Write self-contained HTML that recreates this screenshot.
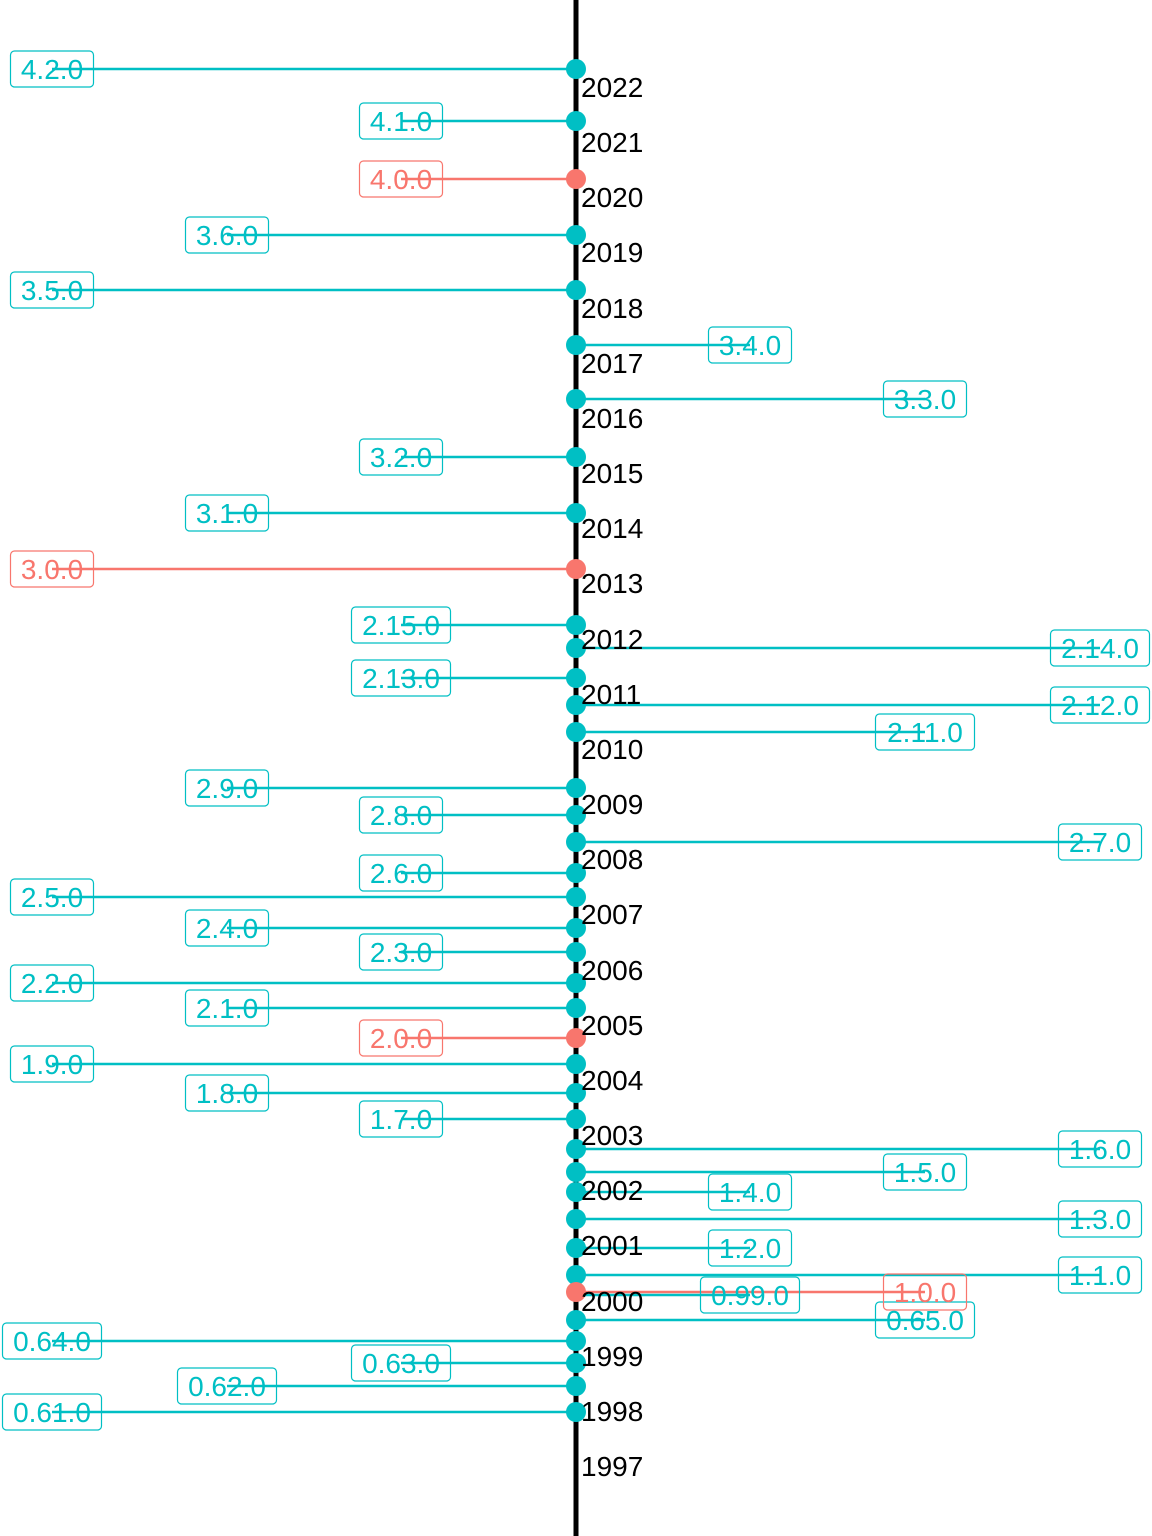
<!DOCTYPE html>
<html><head><meta charset="utf-8"><style>html,body{margin:0;padding:0;background:#fff}svg{display:block}</style></head>
<body>
<svg xmlns="http://www.w3.org/2000/svg" width="1152" height="1536" viewBox="0 0 1152 1536" font-family="Liberation Sans, sans-serif">
<rect width="1152" height="1536" fill="#fff"/>
<line x1="576" y1="0" x2="576" y2="1536" stroke="#000" stroke-width="5"/>
<g stroke="#00BFC4" stroke-width="2.5">
<line x1="576" y1="69" x2="52" y2="69"/>
<line x1="576" y1="121" x2="401" y2="121"/>
<line x1="576" y1="235" x2="227" y2="235"/>
<line x1="576" y1="290" x2="52" y2="290"/>
<line x1="576" y1="345" x2="750" y2="345"/>
<line x1="576" y1="399" x2="925" y2="399"/>
<line x1="576" y1="457" x2="401" y2="457"/>
<line x1="576" y1="513" x2="227" y2="513"/>
<line x1="576" y1="625" x2="401" y2="625"/>
<line x1="576" y1="648" x2="1100" y2="648"/>
<line x1="576" y1="678" x2="401" y2="678"/>
<line x1="576" y1="705" x2="1100" y2="705"/>
<line x1="576" y1="732" x2="925" y2="732"/>
<line x1="576" y1="788" x2="227" y2="788"/>
<line x1="576" y1="815" x2="401" y2="815"/>
<line x1="576" y1="842" x2="1100" y2="842"/>
<line x1="576" y1="873" x2="401" y2="873"/>
<line x1="576" y1="897" x2="52" y2="897"/>
<line x1="576" y1="928" x2="227" y2="928"/>
<line x1="576" y1="952" x2="401" y2="952"/>
<line x1="576" y1="983" x2="52" y2="983"/>
<line x1="576" y1="1008" x2="227" y2="1008"/>
<line x1="576" y1="1064" x2="52" y2="1064"/>
<line x1="576" y1="1093" x2="227" y2="1093"/>
<line x1="576" y1="1119" x2="401" y2="1119"/>
<line x1="576" y1="1149" x2="1100" y2="1149"/>
<line x1="576" y1="1172" x2="925" y2="1172"/>
<line x1="576" y1="1192" x2="750" y2="1192"/>
<line x1="576" y1="1219" x2="1100" y2="1219"/>
<line x1="576" y1="1248" x2="750" y2="1248"/>
<line x1="576" y1="1275" x2="1100" y2="1275"/>
<line x1="576" y1="1295" x2="750" y2="1295"/>
<line x1="576" y1="1320" x2="925" y2="1320"/>
<line x1="576" y1="1341" x2="52" y2="1341"/>
<line x1="576" y1="1363" x2="401" y2="1363"/>
<line x1="576" y1="1386" x2="227" y2="1386"/>
<line x1="576" y1="1412" x2="52" y2="1412"/>
</g>
<g stroke="#F8766D" stroke-width="2.5">
<line x1="576" y1="179" x2="401" y2="179"/>
<line x1="576" y1="569" x2="52" y2="569"/>
<line x1="576" y1="1038" x2="401" y2="1038"/>
<line x1="576" y1="1292" x2="925" y2="1292"/>
</g>
<g fill="#00BFC4">
<circle cx="576" cy="69" r="10"/><circle cx="576" cy="121" r="10"/><circle cx="576" cy="235" r="10"/><circle cx="576" cy="290" r="10"/><circle cx="576" cy="345" r="10"/><circle cx="576" cy="399" r="10"/><circle cx="576" cy="457" r="10"/><circle cx="576" cy="513" r="10"/><circle cx="576" cy="625" r="10"/><circle cx="576" cy="648" r="10"/><circle cx="576" cy="678" r="10"/><circle cx="576" cy="705" r="10"/><circle cx="576" cy="732" r="10"/><circle cx="576" cy="788" r="10"/><circle cx="576" cy="815" r="10"/><circle cx="576" cy="842" r="10"/><circle cx="576" cy="873" r="10"/><circle cx="576" cy="897" r="10"/><circle cx="576" cy="928" r="10"/><circle cx="576" cy="952" r="10"/><circle cx="576" cy="983" r="10"/><circle cx="576" cy="1008" r="10"/><circle cx="576" cy="1064" r="10"/><circle cx="576" cy="1093" r="10"/><circle cx="576" cy="1119" r="10"/><circle cx="576" cy="1149" r="10"/><circle cx="576" cy="1172" r="10"/><circle cx="576" cy="1192" r="10"/><circle cx="576" cy="1219" r="10"/><circle cx="576" cy="1248" r="10"/><circle cx="576" cy="1275" r="10"/><circle cx="576" cy="1320" r="10"/><circle cx="576" cy="1341" r="10"/><circle cx="576" cy="1363" r="10"/><circle cx="576" cy="1386" r="10"/><circle cx="576" cy="1412" r="10"/>
</g>
<g fill="#F8766D">
<circle cx="576" cy="179" r="10"/><circle cx="576" cy="569" r="10"/><circle cx="576" cy="1038" r="10"/><circle cx="576" cy="1292" r="10"/>
</g>
<g font-size="28" fill="#000">
<text x="581" y="97">2022</text><text x="581" y="152">2021</text><text x="581" y="207">2020</text><text x="581" y="262">2019</text><text x="581" y="318">2018</text><text x="581" y="373">2017</text><text x="581" y="428">2016</text><text x="581" y="483">2015</text><text x="581" y="538">2014</text><text x="581" y="593">2013</text><text x="581" y="649">2012</text><text x="581" y="704">2011</text><text x="581" y="759">2010</text><text x="581" y="814">2009</text><text x="581" y="869">2008</text><text x="581" y="924">2007</text><text x="581" y="980">2006</text><text x="581" y="1035">2005</text><text x="581" y="1090">2004</text><text x="581" y="1145">2003</text><text x="581" y="1200">2002</text><text x="581" y="1255">2001</text><text x="581" y="1311">2000</text><text x="581" y="1366">1999</text><text x="581" y="1421">1998</text><text x="581" y="1476">1997</text>
</g>
<g fill="none" stroke="#00BFC4" stroke-width="1.2">
<rect x="10.5" y="51" width="83" height="36" rx="4"/>
<rect x="359.5" y="103" width="83" height="36" rx="4"/>
<rect x="185.5" y="217" width="83" height="36" rx="4"/>
<rect x="10.5" y="272" width="83" height="36" rx="4"/>
<rect x="708.5" y="327" width="83" height="36" rx="4"/>
<rect x="883.5" y="381" width="83" height="36" rx="4"/>
<rect x="359.5" y="439" width="83" height="36" rx="4"/>
<rect x="185.5" y="495" width="83" height="36" rx="4"/>
<rect x="351.5" y="607" width="99" height="36" rx="4"/>
<rect x="1050.5" y="630" width="99" height="36" rx="4"/>
<rect x="351.5" y="660" width="99" height="36" rx="4"/>
<rect x="1050.5" y="687" width="99" height="36" rx="4"/>
<rect x="875.5" y="714" width="99" height="36" rx="4"/>
<rect x="185.5" y="770" width="83" height="36" rx="4"/>
<rect x="359.5" y="797" width="83" height="36" rx="4"/>
<rect x="1058.5" y="824" width="83" height="36" rx="4"/>
<rect x="359.5" y="855" width="83" height="36" rx="4"/>
<rect x="10.5" y="879" width="83" height="36" rx="4"/>
<rect x="185.5" y="910" width="83" height="36" rx="4"/>
<rect x="359.5" y="934" width="83" height="36" rx="4"/>
<rect x="10.5" y="965" width="83" height="36" rx="4"/>
<rect x="185.5" y="990" width="83" height="36" rx="4"/>
<rect x="10.5" y="1046" width="83" height="36" rx="4"/>
<rect x="185.5" y="1075" width="83" height="36" rx="4"/>
<rect x="359.5" y="1101" width="83" height="36" rx="4"/>
<rect x="1058.5" y="1131" width="83" height="36" rx="4"/>
<rect x="883.5" y="1154" width="83" height="36" rx="4"/>
<rect x="708.5" y="1174" width="83" height="36" rx="4"/>
<rect x="1058.5" y="1201" width="83" height="36" rx="4"/>
<rect x="708.5" y="1230" width="83" height="36" rx="4"/>
<rect x="1058.5" y="1257" width="83" height="36" rx="4"/>
<rect x="700.5" y="1277" width="99" height="36" rx="4"/>
<rect x="875.5" y="1302" width="99" height="36" rx="4"/>
<rect x="2.5" y="1323" width="99" height="36" rx="4"/>
<rect x="351.5" y="1345" width="99" height="36" rx="4"/>
<rect x="177.5" y="1368" width="99" height="36" rx="4"/>
<rect x="2.5" y="1394" width="99" height="36" rx="4"/>
</g>
<g fill="none" stroke="#F8766D" stroke-width="1.2">
<rect x="359.5" y="161" width="83" height="36" rx="4"/>
<rect x="10.5" y="551" width="83" height="36" rx="4"/>
<rect x="359.5" y="1020" width="83" height="36" rx="4"/>
<rect x="883.5" y="1274" width="83" height="36" rx="4"/>
</g>
<g font-size="28" fill="#00BFC4" text-anchor="middle">
<text x="52" y="79">4.2.0</text>
<text x="401" y="131">4.1.0</text>
<text x="227" y="245">3.6.0</text>
<text x="52" y="300">3.5.0</text>
<text x="750" y="355">3.4.0</text>
<text x="925" y="409">3.3.0</text>
<text x="401" y="467">3.2.0</text>
<text x="227" y="523">3.1.0</text>
<text x="401" y="635">2.15.0</text>
<text x="1100" y="658">2.14.0</text>
<text x="401" y="688">2.13.0</text>
<text x="1100" y="715">2.12.0</text>
<text x="925" y="742">2.11.0</text>
<text x="227" y="798">2.9.0</text>
<text x="401" y="825">2.8.0</text>
<text x="1100" y="852">2.7.0</text>
<text x="401" y="883">2.6.0</text>
<text x="52" y="907">2.5.0</text>
<text x="227" y="938">2.4.0</text>
<text x="401" y="962">2.3.0</text>
<text x="52" y="993">2.2.0</text>
<text x="227" y="1018">2.1.0</text>
<text x="52" y="1074">1.9.0</text>
<text x="227" y="1103">1.8.0</text>
<text x="401" y="1129">1.7.0</text>
<text x="1100" y="1159">1.6.0</text>
<text x="925" y="1182">1.5.0</text>
<text x="750" y="1202">1.4.0</text>
<text x="1100" y="1229">1.3.0</text>
<text x="750" y="1258">1.2.0</text>
<text x="1100" y="1285">1.1.0</text>
<text x="750" y="1305">0.99.0</text>
<text x="925" y="1330">0.65.0</text>
<text x="52" y="1351">0.64.0</text>
<text x="401" y="1373">0.63.0</text>
<text x="227" y="1396">0.62.0</text>
<text x="52" y="1422">0.61.0</text>
</g>
<g font-size="28" fill="#F8766D" text-anchor="middle">
<text x="401" y="189">4.0.0</text>
<text x="52" y="579">3.0.0</text>
<text x="401" y="1048">2.0.0</text>
<text x="925" y="1302">1.0.0</text>
</g>
</svg>
</body></html>
